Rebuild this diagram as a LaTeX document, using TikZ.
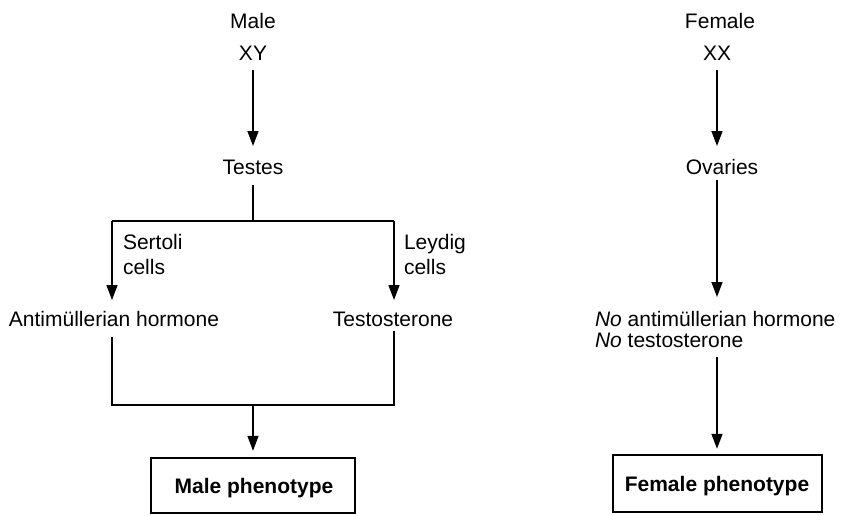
\documentclass[tikz,border=0pt]{standalone}
\usepackage{fontspec}
\setmainfont{Liberation Sans}
\usetikzlibrary{arrows.meta}
\begin{document}
\begin{tikzpicture}[x=1pt,y=-1pt,
  lbl/.style={inner sep=0pt,outer sep=0pt,text height=15pt,text depth=5pt,anchor=base,font=\fontsize{21}{25}\selectfont},
  lblw/.style={lbl,anchor=base west},
  pbox/.style={draw,line width=2.4pt,inner sep=0pt,font=\fontsize{21}{25}\selectfont\bfseries},
  conn/.style={line width=1.5pt},
  arr/.style={conn,-{Triangle[length=15pt,width=11pt]}}]
\useasboundingbox (0,0) rectangle (841,515);
% male side
\node[lbl] (male) at (253,28) {Male};
\node[lbl] (xy) at (253,60) {XY};
\node[lbl] (testes) at (253,174) {Testes};
\node[lblw] (sert1) at (123,249) {Sertoli};
\node[lblw] (sert2) at (123,274) {cells};
\node[lblw] (leyd1) at (404,249) {Leydig};
\node[lblw] (leyd2) at (404,274) {cells};
\node[lbl] (anti) at (114,326) {Antimüllerian hormone};
\node[lbl] (testo) at (393,326) {Testosterone};
\node[pbox,minimum width=204pt,minimum height=55pt] (mbox) at (253,485.5) {};
\node[inner sep=0pt,font=\fontsize{21}{25}\selectfont\bfseries,anchor=base] (mtext) at (254,493) {Male phenotype};
\coordinate (jt) at (253,221);
\coordinate (jl) at (112,221);
\coordinate (jr) at (394,221);
\coordinate (bl) at (112,405);
\coordinate (br) at (394,405);
\coordinate (bt) at (253,405);
\draw[arr,shorten <=5pt,shorten >=13pt] (xy.south) -- (xy.south |- testes.north);
\draw[conn,shorten <=6pt] (testes.south) -- (jt);
\draw[conn] (jl) -- (jr);
\draw[arr,shorten >=11pt] (jl) -- (jl |- anti.north);
\draw[arr,shorten >=11pt] (jr) -- (jr |- testo.north);
\draw[conn,shorten <=6pt] (anti.south -| bl) -- (bl) -- (br) -- (testo.south -| br);
\draw[arr,shorten >=6pt] (bt) -- (mbox.north);
% female side
\node[lbl] (female) at (720,28) {Female};
\node[lbl] (xx) at (717,60) {XX};
\node[lbl] (ovaries) at (722,174) {Ovaries};
\node[lblw] (noanti) at (595,326) {\textit{No} antimüllerian hormone};
\node[lblw] (notesto) at (595,347) {\textit{No} testosterone};
\node[pbox,minimum width=209pt,minimum height=57pt] (fbox) at (717.5,483.5) {};
\node[inner sep=0pt,font=\fontsize{21}{25}\selectfont\bfseries,anchor=base] (ftext) at (717,491) {Female phenotype};
\coordinate (fx) at (717,0);
\draw[arr,shorten <=5pt,shorten >=13pt] (xx.south) -- (xx.south |- ovaries.north);
\draw[arr,shorten <=1pt,shorten >=14pt] (ovaries.south -| fx) -- (fx |- noanti.north);
\draw[arr,shorten <=5pt,shorten >=5pt] (fx |- notesto.south) -- (fx |- fbox.north);
\end{tikzpicture}
\end{document}
